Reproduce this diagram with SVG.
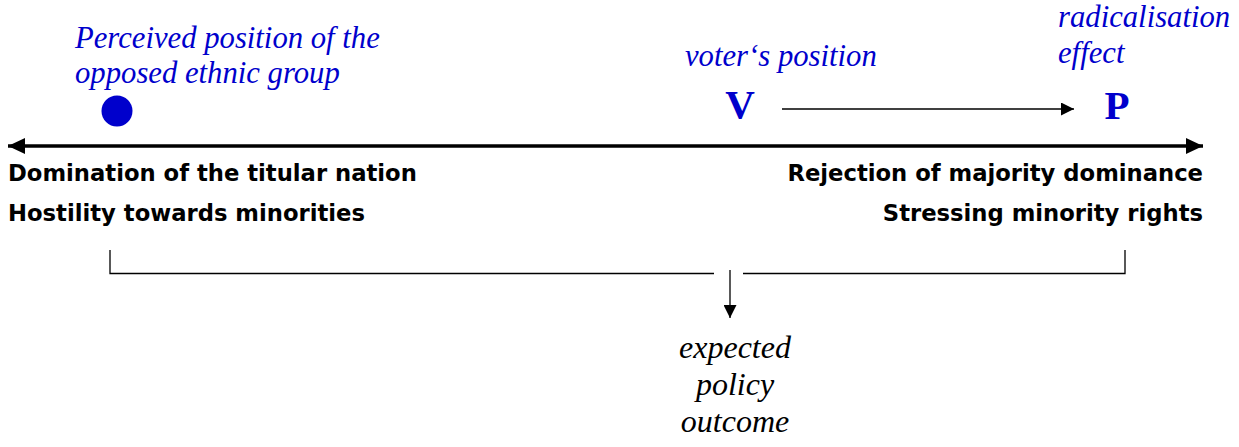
<svg xmlns="http://www.w3.org/2000/svg" width="1239" height="447" viewBox="0 0 1239 447">
<style>
.blue-it{font-family:"Liberation Serif",serif;font-style:italic;fill:#0000cc;font-size:30.7px}
.blue-b{font-family:"Liberation Serif",serif;font-weight:bold;fill:#0000cc;font-size:41px}
.lbl{font-family:"DejaVu Sans",sans-serif;font-weight:bold;fill:#000;font-size:22.7px}
.out{font-family:"Liberation Serif",serif;font-style:italic;fill:#000;font-size:32px}
.ln{stroke:#000;fill:none}
</style>
<defs>
<marker id="ah" markerWidth="13" markerHeight="13" refX="13" refY="6.5" orient="auto" markerUnits="userSpaceOnUse">
<path d="M0,0 L13,6.5 L0,13 Z" fill="#000"/>
</marker>
<marker id="ahb" markerWidth="17" markerHeight="16" refX="17" refY="8" orient="auto-start-reverse" markerUnits="userSpaceOnUse">
<path d="M0,0 L17,8 L0,16 Z" fill="#000"/>
</marker>
</defs>
<g id="connectors">
<line class="ln" x1="8" y1="146" x2="1203" y2="146" stroke-width="3.5" marker-start="url(#ahb)" marker-end="url(#ahb)"/>
<line class="ln" x1="782" y1="109" x2="1074" y2="109" stroke-width="1.3" marker-end="url(#ah)"/>
<polyline class="ln" points="110,250 110,273.5 714,273.5" stroke-width="1.3"/>
<polyline class="ln" points="743,273.5 1125,273.5 1125,250" stroke-width="1.3"/>
<line class="ln" x1="730" y1="270" x2="730" y2="318" stroke-width="1.3" marker-end="url(#ah)"/>
</g>
<g id="opposed-group">
<text class="blue-it" x="75" y="48">Perceived position of the</text>
<text class="blue-it" x="75" y="83">opposed ethnic group</text>
<circle cx="117" cy="111" r="15.5" fill="#0000cc"/>
</g>
<g id="voter">
<text class="blue-it" x="685" y="66">voter‘s position</text>
<text class="blue-b" x="740" y="118" text-anchor="middle">V</text>
</g>
<g id="party">
<text class="blue-it" x="1058" y="27">radicalisation</text>
<text class="blue-it" x="1058" y="63">effect</text>
<text class="blue-b" x="1117" y="119" text-anchor="middle">P</text>
</g>
<g id="left-labels">
<text class="lbl" x="8" y="181">Domination of the titular nation</text>
<text class="lbl" x="8" y="221">Hostility towards minorities</text>
</g>
<g id="right-labels">
<text class="lbl" x="1203" y="181" text-anchor="end">Rejection of majority dominance</text>
<text class="lbl" x="1203" y="221" text-anchor="end">Stressing minority rights</text>
</g>
<g id="outcome">
<text class="out" x="735" y="358" text-anchor="middle">expected</text>
<text class="out" x="735" y="395" text-anchor="middle">policy</text>
<text class="out" x="735" y="432" text-anchor="middle">outcome</text>
</g>
</svg>
